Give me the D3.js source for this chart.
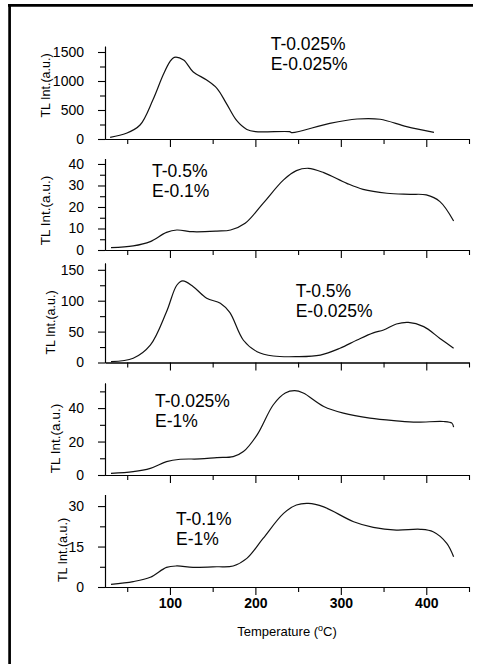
<!DOCTYPE html>
<html>
<head>
<meta charset="utf-8">
<script src="https://cdn.jsdelivr.net/npm/d3@7"></script>
<style>
  body { margin: 0; background: #fff; }
  svg { font-family: Arial, "Liberation Sans", sans-serif; }
</style>
</head>
<body>
<div id="tl-chart"></div>
<script>
// glow curves: temperature (C) and TL intensity (a.u.)
var temp1 = [30, 49, 65, 80, 92, 100, 105, 116, 127, 143, 155, 166, 178, 190, 200, 240, 243, 287, 319, 346, 377, 409];
var tl1   = [29, 98, 241, 672, 1103, 1333, 1408, 1362, 1160, 1017, 874, 615, 320, 165, 126, 126, 109, 270, 345, 340, 212, 115];

var temp2 = [31, 57, 77, 96, 108, 127, 155, 171, 188, 209, 233, 248, 262, 280, 307, 326, 354, 381, 400, 416, 432];
var tl2   = [1.1, 1.9, 3.9, 8.2, 9.3, 8.5, 8.8, 9.3, 12.4, 21.7, 32.6, 36.9, 38, 36, 31, 28.2, 26.4, 25.9, 25.6, 22.5, 13.5];

var temp3 = [31, 57, 77, 96, 108, 115, 127, 143, 159, 170, 186, 202, 221, 248, 276, 299, 319, 338, 350, 365, 379, 397, 416, 432];
var tl3   = [1.3, 6.8, 28, 82, 125, 132, 123, 104, 96, 81, 36, 17.5, 10.5, 9.4, 12, 23, 36.4, 48, 52.6, 62.3, 65, 58, 39, 23];

var temp4 = [31, 57, 77, 96, 112, 135, 155, 174, 186, 202, 221, 235, 246, 256, 280, 303, 334, 365, 389, 420, 430, 432];
var tl4   = [1, 2, 4, 8, 9.4, 9.6, 10.4, 11, 14, 24, 42, 49, 50.4, 49, 41, 37, 34, 32.4, 31.6, 32, 31, 28.6];

var temp5 = [31, 57, 77, 96, 108, 127, 155, 174, 190, 209, 233, 248, 262, 280, 315, 338, 365, 393, 408, 424, 432];
var tl5   = [1, 2, 3.6, 7.3, 7.8, 7.3, 7.5, 7.8, 10.6, 18, 27.3, 30.4, 31, 29.7, 24.2, 22.1, 21.1, 21.4, 20.5, 16.2, 11.2];

var xMajor = [100, 200, 300, 400];
var xMinor = [50, 150, 250, 350, 450];

var yMajor1 = [0, 500, 1000, 1500], yMinor1 = [250, 750, 1250];
var yMajor2 = [0, 10, 20, 30, 40],  yMinor2 = [5, 15, 25, 35];
var yMajor3 = [0, 50, 100, 150],    yMinor3 = [25, 75, 125];
var yMajor4 = [0, 20, 40],          yMinor4 = [10, 30, 50];
var yMajor5 = [0, 15, 30],          yMinor5 = [7.5, 22.5];

var yTop = [1600, 42.5, 161, 55, 34.3];

var sampleT = ["T-0.025%", "T-0.5%", "T-0.5%", "T-0.025%", "T-0.1%"];
var sampleE = ["E-0.025%", "E-0.1%", "E-0.025%", "E-1%", "E-1%"];

var yTitle = "TL Int.(a.u.)";
var xTitle = "Temperature (";

function tlChart() {

  var width = 483, height = 664;

  var svg = d3.select("#tl-chart").append("svg")
      .attr("width", width)
      .attr("height", height);

  // frame (only top and left edges are on the picture)
  svg.append("line").attr("x1", 8).attr("x2", 473).attr("y1", 5.3).attr("y2", 5.3)
      .attr("stroke", "#000").attr("stroke-width", 2.7);
  svg.append("line").attr("x1", 9.6).attr("x2", 9.6).attr("y1", 4).attr("y2", 664)
      .attr("stroke", "#000").attr("stroke-width", 2.7);

  var x = d3.scaleLinear().domain([24, 450]).range([105, 469]);

  // layout of the five stacked panels
  var panels = [
    {temp: temp1, tl: tl1, major: yMajor1, minor: yMinor1, base: 139,   top: 46.2,  lx: 50, ly: 85.5,  lsize: 12.5, ax: 270.7, ay: 50},
    {temp: temp2, tl: tl2, major: yMajor2, minor: yMinor2, base: 250,   top: 158.6, lx: 50, ly: 210.5, lsize: 13.5, ax: 152,   ay: 176.7},
    {temp: temp3, tl: tl3, major: yMajor3, minor: yMinor3, base: 362.5, top: 263,   lx: 55, ly: 322.5, lsize: 12.5, ax: 295.7, ay: 296.7},
    {temp: temp4, tl: tl4, major: yMajor4, minor: yMinor4, base: 475,   top: 383,   lx: 60, ly: 438.5, lsize: 13.5, ax: 155,   ay: 406.7},
    {temp: temp5, tl: tl5, major: yMajor5, minor: yMinor5, base: 587,   top: 494.5, lx: 67, ly: 550,   lsize: 12.5, ax: 176,   ay: 525}
  ];

  panels.forEach(function(p, i) {
    var y = d3.scaleLinear().domain([0, yTop[i]]).range([p.base, p.top]);
    var g = svg.append("g");

    // y axis: minor then major ticks
    g.append("g").attr("transform", "translate(105,0)")
        .call(d3.axisLeft(y).tickValues(p.minor).tickSize(5).tickSizeOuter(0).tickFormat(""));
    g.append("g").attr("transform", "translate(105,0)")
        .call(d3.axisLeft(y).tickValues(p.major).tickSize(7).tickSizeOuter(0).tickPadding(14).tickFormat(d3.format("d")))
        .selectAll("text").style("font-size", "14px");

    // x axis
    g.append("g").attr("transform", "translate(0," + p.base + ")")
        .call(d3.axisBottom(x).tickValues(xMinor).tickSize(5).tickSizeOuter(0).tickFormat(""));
    var xa = g.append("g").attr("transform", "translate(0," + p.base + ")")
        .call(d3.axisBottom(x).tickValues(xMajor).tickSize(8).tickSizeOuter(0).tickPadding(3));
    if (i < 4) xa.selectAll("text").remove();
    else xa.selectAll("text").style("font-size", "14px").style("font-weight", "bold");

    g.selectAll(".domain, .tick line").attr("stroke", "#000").attr("stroke-width", 1.1);

    // glow curve
    var line = d3.line()
        .x(function(d, k) { return x(p.temp[k]); })
        .y(function(d) { return y(d); })
        .curve(d3.curveCatmullRom.alpha(0.5));
    g.append("path")
        .attr("d", line(p.tl))
        .attr("fill", "none")
        .attr("stroke", "#111")
        .attr("stroke-width", 1.2);

    // y title
    g.append("text")
        .attr("transform", "translate(" + p.lx + "," + p.ly + ") rotate(-90)")
        .attr("text-anchor", "middle")
        .style("font-size", p.lsize + "px")
        .text(yTitle);

    // sample label
    g.append("text").attr("x", p.ax).attr("y", p.ay)
        .style("font-size", "17.5px").text(sampleT[i]);
    g.append("text").attr("x", p.ax).attr("y", p.ay + 20)
        .style("font-size", "17.5px").text(sampleE[i]);
  });

  // x title with superscript degree
  var xt = svg.append("text")
      .attr("x", 287).attr("y", 636)
      .attr("text-anchor", "middle")
      .style("font-size", "13px");
  xt.append("tspan").text(xTitle);
  xt.append("tspan").attr("dy", -5).style("font-size", "9px").text("o");
  xt.append("tspan").attr("dy", 5).text("C)");
}

tlChart();
</script>
</body>
</html>
